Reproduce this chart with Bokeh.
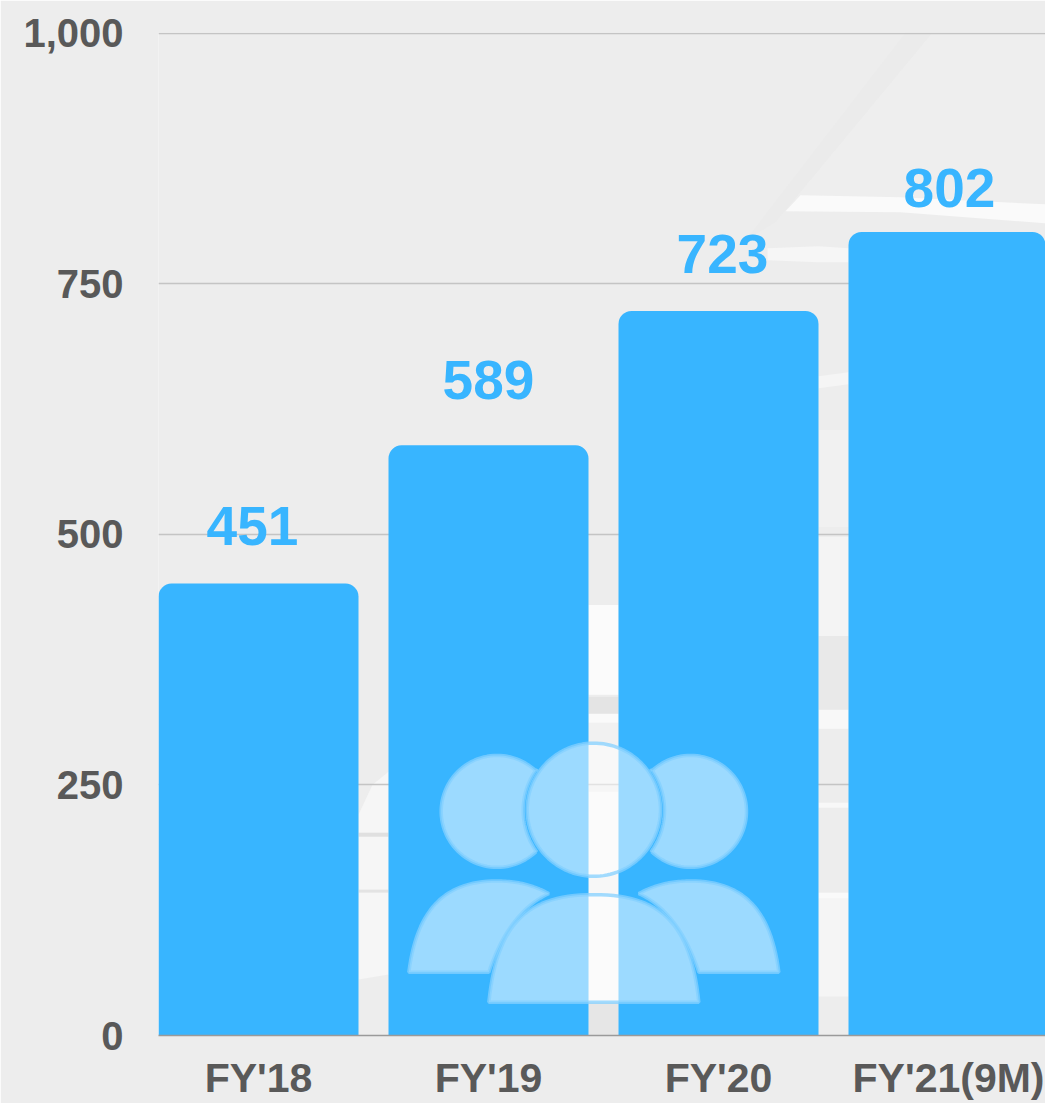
import numpy as np
from bokeh.plotting import figure
from bokeh.embed import file_html
from bokeh.resources import INLINE
from bokeh.models import Range1d, FixedTicker, ColumnDataSource, NumeralTickFormatter
from bokeh.core.properties import value

categories = ["FY'18", "FY'19", "FY'20", "FY'21(9M)"]
members = [451, 589, 723, 802]
label_dx = [-6, 0, 4, 1]
label_dy = [-58, -65, -57, -44]
y_ticks = [0, 250, 500, 750, 1000]

BLUE = "#38b5ff"
GREY = "#595959"
FONT = "Liberation Sans"

# page-pixel geometry of the plot frame (top edge one pixel above the 1,000 line)
FX0, FX1, FY0, FY1 = 158, 1045, 32, 1036
Y1000, CX0, STEP = 33, 258, 230


def dx(px):
    return (np.asarray(px, dtype=float) - CX0) / STEP


def dy(py):
    return (FY1 - np.asarray(py, dtype=float)) * 1000 / (FY1 - Y1000)


p = figure(width=1045, height=1103, output_backend="svg", toolbar_location=None,
           x_range=Range1d(float(dx(FX0)), float(dx(FX1))),
           y_range=Range1d(0, float(dy(FY0))),
           min_border_left=FX0, min_border_right=0, min_border_top=FY0,
           min_border_bottom=1103 - FY1, background_fill_color="#ededed",
           border_fill_color="#ededed", outline_line_color=None)


def zx(z):
    return 380 + np.asarray(z, dtype=float) / 3


def zy(z):
    return 720 + np.asarray(z, dtype=float) / 3


# faint photographic backdrop, behind the grid lines
G1 = [358, 388, 388, 358]
G2 = [588, 618, 618, 588]
G3 = [818, 848, 848, 818]
backdrop = [
    ([932, 1045, 1045, 790, 775], [32, 32, 200, 200, 222], "#eeeeee"),
    ([905, 932, 775, 745], [32, 32, 222, 240], "#ebebeb"),
    ([785, 800, 900, 1045, 1045, 900], [211, 195, 197, 204, 223, 212], "#fafafa"),
    ([767, 818, 848, 848, 818, 767], [248, 246, 248, 262, 262, 260], "#f6f6f6"),
    ([358, 372, 388, 388, 358], [815, 785, 772, 975, 980], "#f6f6f6"),
    (G1, [833, 833, 837, 837], "#e0e0e0"),
    (G1, [890, 890, 893, 893], "#e3e3e3"),
    (G2, [605, 605, 695, 695], "#fbfbfb"),
    (G2, [697, 697, 714, 714], "#e4e4e4"),
    (G2, [714, 714, 723, 723], "#fafafa"),
    (G2, [723, 723, 785, 785], "#f1f1f1"),
    (G2, [792, 792, 1003, 1003], "#f7f7f7"),
    (G2, [1003, 1003, 1036, 1036], "#e6e6e6"),
    (G3, [376, 372, 384, 388], "#f5f5f5"),
    (G3, [430, 430, 527, 527], "#f1f1f1"),
    (G3, [537, 537, 636, 636], "#f4f4f4"),
    (G3, [636, 636, 710, 710], "#e9e9e9"),
    (G3, [710, 710, 729, 729], "#f8f8f8"),
    (G3, [803, 803, 808, 808], "#f8f8f8"),
    (G3, [893, 893, 899, 899], "#fafafa"),
    (G3, [899, 899, 997, 997], "#f5f5f5"),
]
p.patches([dx(b[0]).tolist() for b in backdrop], [dy(b[1]).tolist() for b in backdrop],
          fill_color=[b[2] for b in backdrop], line_color=None, level="image")

# bars
xs = list(range(len(categories)))
src = ColumnDataSource(dict(x=xs, top=members, text=[str(m) for m in members],
                            dx=label_dx, dy=label_dy))
p.vbar(x="x", top="top", bottom=0, width=200 / STEP, source=src, fill_color=BLUE,
       line_color=None, border_radius=(13, 13, 0, 0))
p.text(x="x", y="top", text="text", source=src, x_offset="dx", y_offset="dy",
       text_align="center", text_baseline="alphabetic", text_color=BLUE,
       text_font=value(FONT), text_font_style="bold", text_font_size="55px")


# people icon
def bez(p0, c1, c2, p3, n=30):
    t = np.linspace(0, 1, n)[:, None]
    p0, c1, c2, p3 = map(np.array, (p0, c1, c2, p3))
    return (1 - t) ** 3 * p0 + 3 * (1 - t) ** 2 * t * c1 + 3 * (1 - t) * t ** 2 * c2 + t ** 3 * p3


def mirror(pts, axis=640):
    q = np.array(pts, dtype=float)
    q[:, 0] = 2 * axis - q[:, 0]
    return q


ang = np.linspace(0, 2 * np.pi, 120)
centre = np.column_stack([640 + 200 * np.cos(ang), 270 + 200 * np.sin(ang)])
a1 = np.radians(np.linspace(-46, -314, 80))
outer = np.column_stack([350 + 168 * np.cos(a1), 275 + 168 * np.sin(a1)])
a2 = np.radians(np.linspace(144, 216, 40))
inner = np.column_stack([640 + 212 * np.cos(a2), 272 + 212 * np.sin(a2)])
left_head = np.vstack([outer, inner[np.argsort(-inner[:, 1])]])
right_head = mirror(left_head)

left_half = bez((325, 848), (350, 610), (440, 525), (640, 525))
centre_body = np.vstack([left_half, mirror(left_half)[::-1]])

side = np.vstack([
    bez((85, 758), (110, 560), (200, 484), (350, 484)),
    bez((350, 484), (410, 484), (460, 497), (505, 522)),
    bez((505, 522), (420, 560), (360, 650), (325, 758)),
])
side_r = mirror(side)

shapes = [left_head, right_head, side, side_r, centre, centre_body]
p.patches([dx(zx(s[:, 0])).tolist() for s in shapes], [dy(zy(s[:, 1])).tolist() for s in shapes],
          fill_color="white", fill_alpha=0.5, line_color="#84d0ff", line_alpha=0.75, line_width=3.5)

# axes
p.xaxis.ticker = FixedTicker(ticks=xs)
p.xaxis.major_label_overrides = dict(zip(xs, categories))
p.xaxis.axis_line_color = "#9a9a9a"
p.xaxis.axis_line_width = 1.5
p.xaxis.major_tick_line_color = None
p.xaxis.minor_tick_line_color = None
p.xaxis.major_label_text_font = FONT
p.xaxis.major_label_text_font_style = "bold"
p.xaxis.major_label_text_font_size = "41px"
p.xaxis.major_label_text_color = GREY
p.xaxis.major_label_standoff = 13

p.yaxis.ticker = FixedTicker(ticks=y_ticks)
p.yaxis.formatter = NumeralTickFormatter(format="0,0")
p.yaxis.axis_line_color = None
p.yaxis.major_tick_line_color = None
p.yaxis.minor_tick_line_color = None
p.yaxis.major_label_text_font = FONT
p.yaxis.major_label_text_font_style = "bold"
p.yaxis.major_label_text_font_size = "40px"
p.yaxis.major_label_text_color = GREY
p.yaxis.major_label_standoff = 29

p.xgrid.grid_line_color = None
p.ygrid.ticker = FixedTicker(ticks=y_ticks)
p.ygrid.grid_line_color = "#c4c4c4"
p.ygrid.grid_line_width = 1.5

open("out.html", "w").write(file_html(p, INLINE))
